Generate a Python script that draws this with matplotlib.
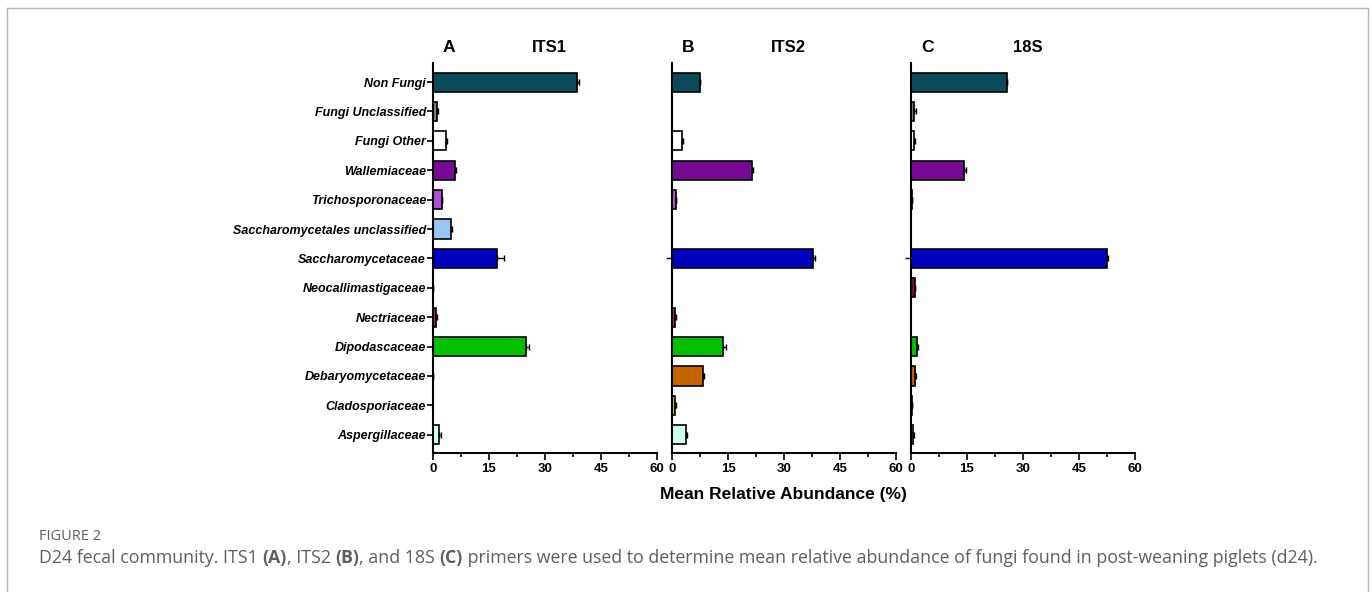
import numpy as np
import matplotlib
matplotlib.use("Agg")
import matplotlib.pyplot as plt
from matplotlib.lines import Line2D
from matplotlib.ticker import MultipleLocator

plt.rcParams['font.family'] = ['Liberation Sans', 'DejaVu Sans']

# Families, top to bottom
families = ['Non Fungi', 'Fungi Unclassified', 'Fungi Other', 'Wallemiaceae',
            'Trichosporonaceae', 'Saccharomycetales unclassified',
            'Saccharomycetaceae', 'Neocallimastigaceae', 'Nectriaceae',
            'Dipodascaceae', 'Debaryomycetaceae', 'Cladosporiaceae',
            'Aspergillaceae']

colors = ['#0b4a5c', '#7f7f7f', '#ffffff', '#760a94', '#b24fd6', '#99c4f5',
          '#0000c0', '#7a0a2a', '#a8285a', '#00c000', '#c86400', '#c8c000',
          '#ccfff0']

# mean relative abundance (%) and SEM
its1_mean = [38.5, 1.2, 3.4, 5.9, 2.3, 4.7, 17.2, 0.05, 0.8, 24.9, 0.05, 0.0, 1.7]
its1_err = [0.7, 0.2, 0.4, 0.3, 0.2, 0.4, 1.8, 0.0, 0.2, 0.9, 0.0, 0.0, 0.5]

its2_mean = [7.4, 0.0, 2.8, 21.3, 1.0, 0.0, 37.8, 0.0, 0.9, 13.6, 8.4, 0.9, 3.8]
its2_err = [0.2, 0.0, 0.2, 0.3, 0.2, 0.0, 0.5, 0.0, 0.1, 0.9, 0.3, 0.2, 0.3]

s18_mean = [25.6, 0.9, 0.8, 14.3, 0.2, 0.0, 52.5, 1.0, 0.0, 1.5, 1.2, 0.3, 0.6]
s18_err = [0.2, 0.4, 0.3, 0.3, 0.1, 0.0, 0.4, 0.1, 0.0, 0.3, 0.2, 0.1, 0.3]

panels = [('A', 'ITS1', its1_mean, its1_err),
          ('B', 'ITS2', its2_mean, its2_err),
          ('C', '18S', s18_mean, s18_err)]

W, H = 1372, 592
fig = plt.figure(figsize=(W / 100, H / 100), dpi=100)

# outer frame of the figure panel
frame = dict(color='#b5b5b5', lw=1.0, transform=fig.transFigure)
fig.add_artist(Line2D([7 / W, 1368 / W], [1 - 8 / H, 1 - 8 / H], **frame))
fig.add_artist(Line2D([7 / W, 7 / W], [0, 1 - 8 / H], **frame))
fig.add_artist(Line2D([1368 / W, 1368 / W], [0, 1 - 8 / H], **frame))

lefts = [433, 672, 911]
ax_w = 224
y_top, y_bot = 63, 453
pos = np.arange(len(families))

for i, (letter, title, mean, err) in enumerate(panels):
    ax = fig.add_axes([lefts[i] / W, 1 - y_bot / H, ax_w / W, (y_bot - y_top) / H])
    mean = np.array(mean)
    err = np.array(err)
    shown = mean > 0
    ax.barh(pos[shown], mean[shown], height=0.65,
            color=[c for c, s in zip(colors, shown) if s],
            edgecolor='black', linewidth=1.2, zorder=2)
    ax.errorbar(mean[shown], pos[shown], xerr=[np.zeros(shown.sum()), err[shown]],
                fmt='none', ecolor='black', elinewidth=1.0, capsize=2.5,
                capthick=1.0, zorder=3)
    ax.set_xlim(0, 60)
    ax.set_ylim(len(families) - 1 + 0.62, -0.65)
    ax.xaxis.set_major_locator(MultipleLocator(15))
    ax.xaxis.set_minor_locator(MultipleLocator(7.5))
    ax.tick_params(axis='x', which='major', length=5, width=1.2, labelsize=9.5, pad=2)
    ax.tick_params(axis='x', which='minor', length=3, width=1.2)
    for lab in ax.get_xticklabels():
        lab.set_fontweight('bold')
    for side in ['top', 'right']:
        ax.spines[side].set_visible(False)
    for side in ['left', 'bottom']:
        ax.spines[side].set_linewidth(1.5)
    if i == 0:
        ax.set_yticks(pos)
        ax.set_yticklabels(families, fontsize=9, fontweight='bold', style='italic')
        ax.tick_params(axis='y', length=4, width=1.2, pad=1)
    else:
        ax.set_yticks([6])
        ax.set_yticklabels([''])
        ax.tick_params(axis='y', length=4, width=1.0)
    ax.text(10 / ax_w, 1.02, letter, transform=ax.transAxes, fontsize=12.5,
            fontweight='bold', ha='left', va='bottom')
    ax.text(0.52, 1.02, title, transform=ax.transAxes, fontsize=12,
            fontweight='bold', ha='center', va='bottom')

fig.text(783 / W, 1 - 495 / H, 'Mean Relative Abundance (%)', fontsize=12.5,
         fontweight='bold', ha='center', va='center')

# caption
cap_color = '#5f5f5f'
fig.text(39 / W, 1 - 537 / H, 'FIGURE 2', fontsize=10.5, color=cap_color,
         family=['Open Sans', 'DejaVu Sans'], ha='left', va='center')

pieces = [('D24 fecal community. ITS1 ', 'normal'), ('(A)', 'bold'),
          (', ITS2 ', 'normal'), ('(B)', 'bold'), (', and 18S ', 'normal'),
          ('(C)', 'bold'),
          (' primers were used to determine mean relative abundance of fungi '
           'found in post-weaning piglets (d24).', 'normal')]
renderer = fig.canvas.get_renderer()
x = 39
for txt, weight in pieces:
    t = fig.text(x / W, 1 - 558 / H, txt, fontsize=12.8, color=cap_color,
                 fontweight=weight, family=['Open Sans', 'DejaVu Sans'],
                 ha='left', va='center')
    bb = t.get_window_extent(renderer=renderer)
    x += bb.width

fig.savefig('out.png', dpi=100)
